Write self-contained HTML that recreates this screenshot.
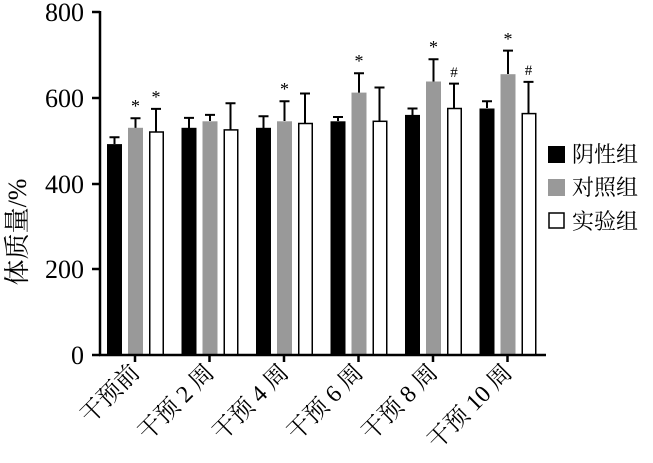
<!DOCTYPE html><html><head><style>body{margin:0;background:#fff}svg{display:block}text{font-family:"Liberation Serif","Noto Serif CJK SC",serif;fill:#000}</style></head><body>
<svg width="653" height="463" viewBox="0 0 653 463">
<g stroke="#000" stroke-width="2" fill="none">
<path d="M114.5 144V137.2M109.5 137.2h10M135.5 128V118.3M130.5 118.3h10M156 132V108.9M151 108.9h10"/>
<path d="M189 128V117.9M184 117.9h10M210 121V114.9M205 114.9h10M230.5 130V103.3M225.5 103.3h10"/>
<path d="M263.5 128V116.2M258.5 116.2h10M284.5 121V101.2M279.5 101.2h10M305 123V93.5M300 93.5h10"/>
<path d="M338 121V117M333 117h10M359 93V73.3M354 73.3h10M379.5 121V87.5M374.5 87.5h10"/>
<path d="M412.5 115V108.5M407.5 108.5h10M433.5 82V59.2M428.5 59.2h10M454 108V83.6M449 83.6h10"/>
<path d="M487 108V101.2M482 101.2h10M508 74V50.6M503 50.6h10M528.5 113V81.9M523.5 81.9h10"/>
</g>
<g fill="#000">
<rect x="107" y="144.1" width="15" height="210.9"/><rect x="181.5" y="127.8" width="15" height="227.2"/><rect x="256" y="127.8" width="15" height="227.2"/><rect x="330.5" y="121.3" width="15" height="233.7"/><rect x="405" y="114.9" width="15" height="240.1"/><rect x="479.5" y="108.5" width="15" height="246.5"/>
</g>
<g fill="#999">
<rect x="128" y="127.8" width="15" height="227.2"/><rect x="202.5" y="121.3" width="15" height="233.7"/><rect x="277" y="121.3" width="15" height="233.7"/><rect x="351.5" y="92.6" width="15" height="262.4"/><rect x="426" y="81.5" width="15" height="273.5"/><rect x="500.5" y="74.2" width="15" height="280.8"/>
</g>
<g fill="#fff" stroke="#000" stroke-width="1.5">
<rect x="149.75" y="132" width="13.5" height="223"/><rect x="224.25" y="129.9" width="13.5" height="225.1"/><rect x="298.75" y="123.5" width="13.5" height="231.5"/><rect x="373.25" y="121.3" width="13.5" height="233.7"/><rect x="447.75" y="108.5" width="13.5" height="246.5"/><rect x="522.25" y="113.6" width="13.5" height="241.4"/>
</g>
<g font-size="18" text-anchor="middle">
<text x="135.5" y="112">*</text><text x="156" y="103">*</text><text x="284.5" y="95">*</text><text x="359" y="67">*</text><text x="433.5" y="53">*</text><text x="508" y="45">*</text>
</g>
<g font-size="15" text-anchor="middle"><text x="454" y="77">#</text><text x="528.5" y="75">#</text></g>
<g stroke="#000" stroke-width="2.5" fill="none">
<line x1="100" y1="11" x2="100" y2="356"/><line x1="99" y1="355" x2="546" y2="355"/>
<line x1="92" y1="12" x2="100" y2="12"/><line x1="92" y1="98" x2="100" y2="98"/><line x1="92" y1="184" x2="100" y2="184"/><line x1="92" y1="269" x2="100" y2="269"/><line x1="92" y1="355" x2="100" y2="355"/>
<path d="M135 355v7M209.5 355v7M284 355v7M358.5 355v7M433 355v7M507.5 355v7"/>
</g>
<g font-size="26" text-anchor="end"><text x="84" y="21">800</text><text x="84" y="107">600</text><text x="84" y="193">400</text><text x="84" y="278">200</text><text x="84" y="364">0</text></g>
<text transform="translate(26,232) rotate(-90)" font-size="26" text-anchor="middle">体质量/%</text>
<g font-size="24" text-anchor="end">
<text transform="translate(141,374) rotate(-45)">干预前</text>
<text transform="translate(215.5,374) rotate(-45)">干预 2 周</text>
<text transform="translate(290,374) rotate(-45)">干预 4 周</text>
<text transform="translate(364.5,374) rotate(-45)">干预 6 周</text>
<text transform="translate(439,374) rotate(-45)">干预 8 周</text>
<text transform="translate(513.5,374) rotate(-45)">干预 10 周</text>
</g>
<g font-size="22">
<rect x="548" y="146" width="17" height="17" fill="#000"/><text x="572" y="162">阴性组</text>
<rect x="548" y="179" width="17" height="17" fill="#999"/><text x="572" y="195">对照组</text>
<rect x="549" y="213" width="15" height="15" fill="#fff" stroke="#000" stroke-width="1.5"/><text x="572" y="229">实验组</text>
</g>
</svg></body></html>
